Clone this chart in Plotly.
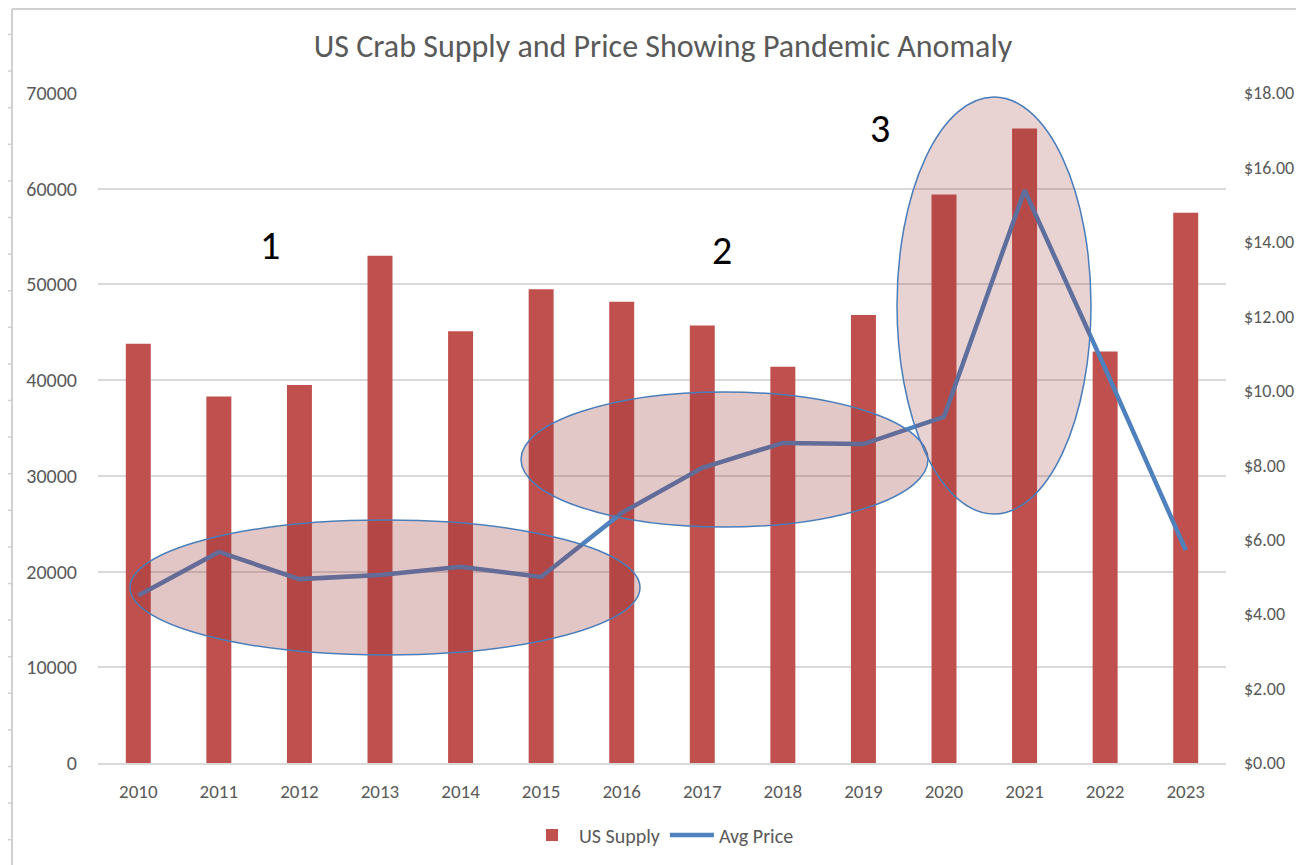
import plotly.graph_objects as go

# chart data
years = [str(y) for y in range(2010, 2024)]
us_supply = [43800, 38300, 39500, 53000, 45100, 49500, 48200, 45700, 41400, 46800, 59400, 66300, 43000, 57500]
avg_price = [4.50, 5.67, 4.94, 5.05, 5.27, 5.00, 6.72, 7.93, 8.60, 8.57, 9.30, 15.39, 10.60, 5.72]
left_ticks = [0, 10000, 20000, 30000, 40000, 50000, 60000, 70000]
right_ticks = [0, 2, 4, 6, 8, 10, 12, 14, 16, 18]
right_labels = ["$%.2f" % v for v in right_ticks]
callout_labels = ["1", "2", "3"]

# page body has an 8px margin, so the figure is drawn 8px in from the window corner
OFF = 8
W, H = 1304 - OFF, 865 - OFF
ML, MR, MT, MB = 98 - OFF, 78, 93 - OFF, 102
FONT = "Carlito, Calibri, Lato, sans-serif"
GREY = "#595959"


def px(x):
    # window pixel x -> paper x
    return (x - OFF - ML) / (W - ML - MR)


def py(y):
    # window pixel y -> paper y
    return (H - MB - (y - OFF)) / (H - MT - MB)


fig = go.Figure()
fig.add_trace(go.Bar(x=years, y=us_supply, name="US Supply", marker_color="#C0504D",
                     marker_line_width=0))
fig.add_trace(go.Scatter(x=years, y=avg_price, name="Avg Price", yaxis="y2", mode="lines",
                         line=dict(color="#4F81BD", width=4.5)))

shapes = []
# callout ellipses (x0, y0, x1, y1 in window pixels) and fill opacity
ellipses = [(130, 520, 640, 655, 0.28), (521, 392, 928, 527, 0.27), (897, 97, 1091, 514, 0.22)]
for x0, y0, x1, y1, a in ellipses:
    shapes.append(dict(type="circle", xref="paper", yref="paper", layer="above",
                       x0=px(x0), x1=px(x1), y0=py(y1), y1=py(y0),
                       fillcolor="rgba(150,52,52,%.2f)" % a,
                       line=dict(color="#4A7EBB", width=1.5)))

# sheet edge decoration on the left and top
edge = dict(color="#D0D0D0", width=2)
shapes.append(dict(type="line", xref="paper", yref="paper", x0=px(12), x1=px(12),
                   y0=py(9), y1=py(870), line=edge))
shapes.append(dict(type="line", xref="paper", yref="paper", x0=px(12), x1=px(1310),
                   y0=py(9), y1=py(9), line=edge))
ty = 34.5
while ty < 865:
    shapes.append(dict(type="line", xref="paper", yref="paper", x0=px(8), x1=px(12),
                       y0=py(ty), y1=py(ty), line=dict(color="#D0D0D0", width=1.5)))
    ty += 36.6
for tx in [78, 1115, 1263]:
    shapes.append(dict(type="line", xref="paper", yref="paper", x0=px(tx), x1=px(tx),
                       y0=py(7), y1=py(9), line=dict(color="#D0D0D0", width=1.5)))

annotations = []
for lab, (x, y) in zip(callout_labels, [(270, 246), (722, 250), (880, 128)]):
    annotations.append(dict(text=lab, x=px(x), y=py(y), xref="paper", yref="paper",
                            xanchor="center", yanchor="middle", showarrow=False,
                            font=dict(family=FONT, size=40, color="black")))

fig.update_layout(
    width=W, height=H,
    margin=dict(l=ML, r=MR, t=MT, b=MB, autoexpand=False),
    paper_bgcolor="white", plot_bgcolor="white",
    font=dict(family=FONT, size=19, color=GREY),
    title=dict(text="US Crab Supply and Price Showing Pandemic Anomaly", x=px(663), xanchor="center",
               xref="paper", y=1 - (46 - OFF) / H, yanchor="middle",
               font=dict(family=FONT, size=32, color=GREY)),
    bargap=0.69,
    showlegend=True,
    legend=dict(orientation="h", x=px(662), xanchor="center", y=py(835), yanchor="middle",
                font=dict(family=FONT, size=20, color=GREY), itemwidth=44),
    xaxis=dict(type="category", showgrid=False, showline=True, linecolor="#D9D9D9", linewidth=1.5,
               ticks="", ticklabelstandoff=10, automargin=False,
               tickfont=dict(size=19, color=GREY)),
    yaxis=dict(range=[0, 70000], tickvals=left_ticks, showgrid=True, gridcolor="#D9D9D9",
               gridwidth=1.5, zeroline=False, showline=False, ticks="", ticklabelstandoff=20,
               tickformat="d", automargin=False, tickfont=dict(size=20, color=GREY)),
    yaxis2=dict(range=[0, 18], overlaying="y", side="right", tickvals=right_ticks,
                ticktext=right_labels, showgrid=False, zeroline=False, showline=False,
                ticks="", ticklabelstandoff=17, automargin=False,
                tickfont=dict(size=18, color=GREY)),
    shapes=shapes,
    annotations=annotations,
)

fig.write_html("out.html")
